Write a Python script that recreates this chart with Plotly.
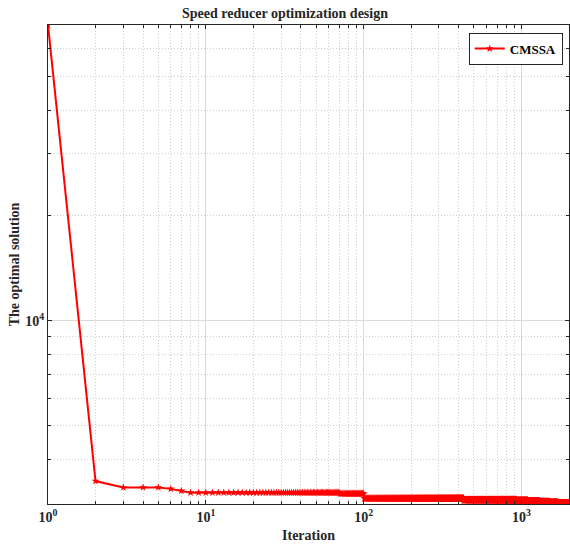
import numpy as np
import plotly.graph_objects as go

# Convergence curve described as steps: (first iteration of step, best value held)
step_starts = [1, 2, 3, 6, 7, 8, 71, 101, 431, 931, 1100, 1300, 1500, 1700, 1900]
step_values = [70000, 3477, 3334, 3303, 3260, 3222, 3200, 3100, 3070, 3058, 3045, 3030, 3016, 3005, 2996]
n_iter = 2000

x_tick_vals = [1, 10, 100, 1000]
x_tick_text = ["10<sup>0</sup>", "10<sup>1</sup>", "10<sup>2</sup>", "10<sup>3</sup>"]
y_tick_vals = [10000]
y_tick_text = ["10<sup>4</sup>"]

ends = step_starts[1:] + [n_iter + 1]
lengths = [e - s for s, e in zip(step_starts, ends)]
iters = np.arange(1, n_iter + 1)
values = np.repeat(step_values, lengths)

x_minor = [m * 10 ** d for d in range(0, 4) for m in range(2, 10) if m * 10 ** d <= 2000]
y_minor = [m * 10 ** d for d in range(3, 5) for m in range(2, 10) if 2990 <= m * 10 ** d <= 70000 and m * 10 ** d != 10000]

font_family = "Liberation Serif, Times New Roman, serif"

fig = go.Figure()
fig.add_trace(go.Scatter(
    x=iters, y=values, mode="lines+markers", name="<b>CMSSA</b>",
    line=dict(color="#ff0000", width=2),
    marker=dict(symbol="star", size=6, color="#ff0000", line=dict(width=0)),
))

axis_common = dict(
    type="log", showline=True, linecolor="#262626", linewidth=1, mirror="ticks",
    ticks="inside", ticklen=4, tickcolor="#262626",
    showgrid=True, gridcolor="#dadada", gridwidth=1,
    zeroline=False,
    tickfont=dict(family=font_family, size=14, color="#262626"),
)

fig.update_xaxes(
    **axis_common,
    range=[0, np.log10(2000)],
    tickmode="array", tickvals=x_tick_vals, ticktext=["<b>%s</b>" % t for t in x_tick_text],
    minor=dict(tickmode="array", tickvals=x_minor, ticks="inside", ticklen=3, tickcolor="#262626",
               showgrid=True, gridcolor="#cfcfcf", griddash="1px,2px", gridwidth=1),
    title=dict(text="<b>Iteration</b>", font=dict(family=font_family, size=14, color="#262626"), standoff=6),
)
fig.update_yaxes(
    **axis_common,
    range=[np.log10(2990), np.log10(70000)],
    tickmode="array", tickvals=y_tick_vals, ticktext=["<b>%s</b>" % t for t in y_tick_text],
    minor=dict(tickmode="array", tickvals=y_minor, ticks="inside", ticklen=3, tickcolor="#262626",
               showgrid=True, gridcolor="#cfcfcf", griddash="1px,2px", gridwidth=1),
    title=dict(text="<b>The optimal solution</b>", font=dict(family=font_family, size=14, color="#262626"), standoff=2),
)

fig.update_layout(
    width=570, height=546,
    margin=dict(l=48, r=1, t=25, b=42),
    paper_bgcolor="white", plot_bgcolor="white",
    title=dict(text="<b>Speed reducer optimization design</b>", x=0.5, xanchor="center", y=0.976, yanchor="middle",
               font=dict(family=font_family, size=14, color="#262626")),
    showlegend=True,
    legend=dict(x=0.988, y=0.984, xanchor="right", yanchor="top", bgcolor="white",
                bordercolor="#262626", borderwidth=1,
                font=dict(family=font_family, size=13, color="#000000"),
                itemwidth=30, tracegroupgap=0),
)

fig.write_html("out.html", config={"displayModeBar": False},
               post_script="document.body.style.margin='0px';document.body.style.padding='0px';")
